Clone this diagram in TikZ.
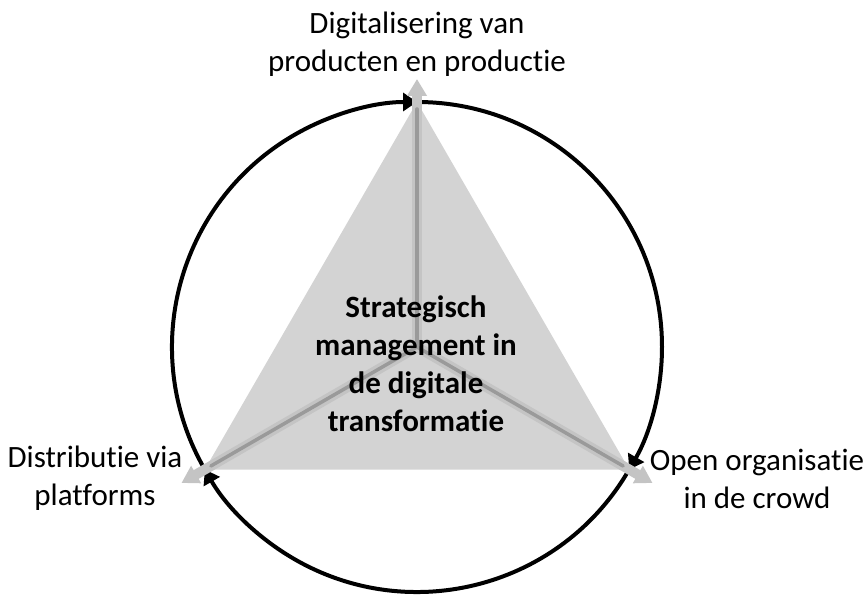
\documentclass[tikz,border=0pt]{standalone}
\usepackage{fontspec}
\setmainfont{Carlito}[Ligatures={NoCommon}]
\usetikzlibrary{arrows.meta}
\definecolor{trigray}{HTML}{D3D3D3}
\definecolor{spokegray}{HTML}{C4C4C4}
\definecolor{spokedark}{HTML}{9A9A9A}
\begin{document}
\begin{tikzpicture}[x=1pt,y=1pt,
  sidetext/.style={font=\fontsize{31}{37.5}\selectfont, align=center, inner sep=0pt},
  coretext/.style={font=\fontsize{31}{38}\selectfont\bfseries, align=center, inner sep=0pt},
  spoke/.style={line width=10pt, draw=spokegray, -{Triangle[length=17pt,width=19pt]}},
  spokecore/.style={line width=3.5pt, draw=spokedark},
  cyclearc/.style={line width=4pt, draw=black, -{Triangle[length=14pt,width=18pt]}}]
\useasboundingbox (-417,-252) rectangle (450,347);
% centre and corners of the triangle on the circle
\coordinate (c) at (0,0);
\coordinate (vt) at (90:245);
\coordinate (vl) at (210:245);
\coordinate (vr) at (330:245);
% tips of the spokes, just outside the circle
\coordinate (et) at (90:268);
\coordinate (el) at (210:272);
\coordinate (er) at (330:272);
\coordinate (it) at (90:238);
\coordinate (il) at (210:238);
\coordinate (ir) at (330:238);
% triangle
\fill[trigray] (vt) -- (vl) -- (vr) -- cycle;
% clockwise cycle round the triangle
\draw[cyclearc] (vl) arc[start angle=210, end angle=90, radius=245];
\draw[cyclearc] (vt) arc[start angle=90, end angle=-30, radius=245];
\draw[cyclearc] (vr) arc[start angle=-30, end angle=-150, radius=245];
% spokes from the centre to the corners
\draw[spoke] (c) -- (et);
\draw[spoke] (c) -- (el);
\draw[spoke] (c) -- (er);
\draw[spokecore, line cap=round] (c) -- (it);
\draw[spokecore, line cap=round] (c) -- (il);
\draw[spokecore, line cap=round] (c) -- (ir);
% texts
\node[coretext] (core) at (-1,-17) {Strategisch\\management in\\de digitale\\transformatie};
\node[sidetext] (top) at (0,303) {Digitalisering van\\producten en productie};
\node[sidetext] (left) at (-322,-131) {Distributie via\\platforms};
\node[sidetext] (right) at (340,-132) {Open organisatie\\in de crowd};
\end{tikzpicture}
\end{document}
